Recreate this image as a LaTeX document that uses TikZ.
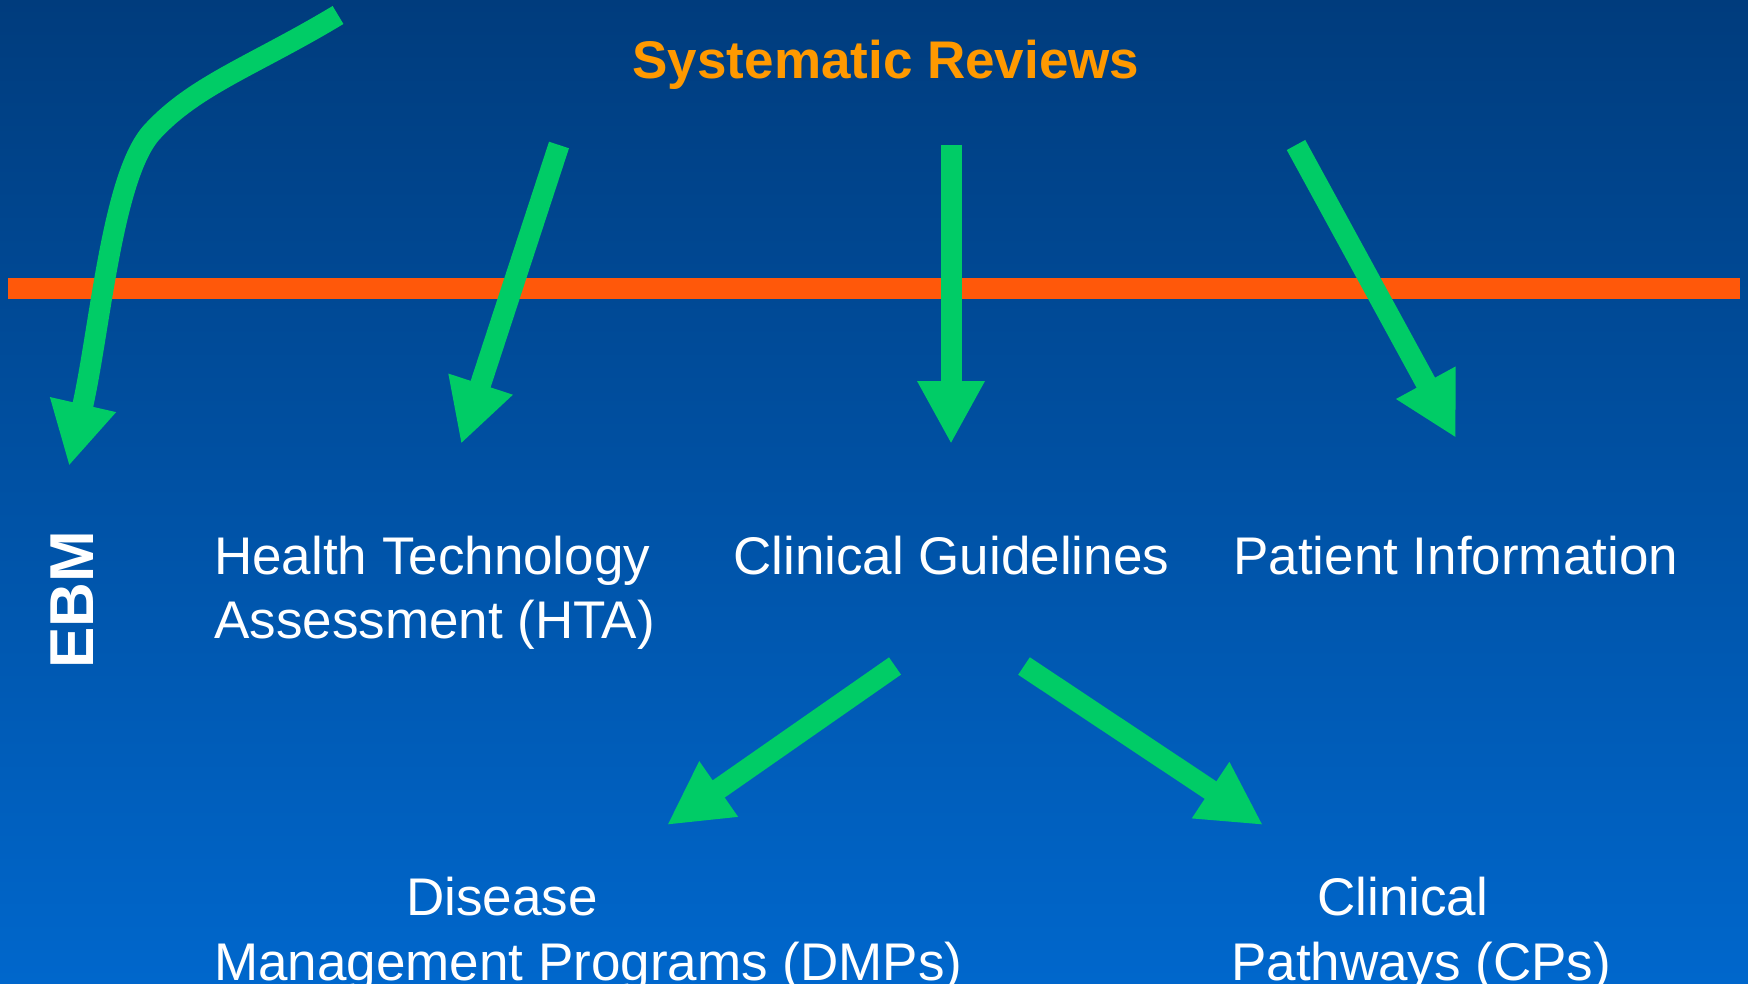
\documentclass[tikz,border=0pt]{standalone}
\usepackage{fontspec}
\setmainfont{Liberation Sans}
\usetikzlibrary{arrows.meta}
\definecolor{bgtop}{RGB}{0,60,125}
\definecolor{bgbot}{RGB}{0,103,204}
\definecolor{flow}{RGB}{0,204,102}
\definecolor{divider}{RGB}{255,88,10}
\definecolor{heading}{RGB}{255,153,0}
\begin{document}
\begin{tikzpicture}[x=1pt,y=-1pt,
  flowarrow/.style={draw=flow, line width=21pt, -{Triangle[length=63pt,width=63pt]}},
  txt/.style={text=white, font=\fontsize{53}{64}\selectfont, anchor=base west, inner sep=0pt},
  headline/.style={text=heading, font=\bfseries\fontsize{53}{64}\selectfont, anchor=base, inner sep=0pt},
]
\useasboundingbox (0,0) rectangle (1748,984);
\clip (0,0) rectangle (1748,984);
% background
\shade[top color=bgtop, bottom color=bgbot] (0,0) rectangle (1748,984);

% dividing line
\coordinate (divL) at (8,288.5);
\coordinate (divR) at (1740,288.5);
\draw[divider, line width=21pt] (divL) -- (divR);

% texts
\node[headline] (sr) at (886,79) {Systematic Reviews};
\node[text=white, font=\bfseries\fontsize{62}{62}\selectfont, rotate=90, anchor=base, inner sep=0pt] (ebm) at (93,600) {EBM};
\node[txt] (hta) at (214,574) {Health Technology};
\node[txt] (htaB) at (214,638) {Assessment (HTA)};
\node[txt] (cg) at (733,574) {Clinical Guidelines};
\node[txt] (pi) at (1233,574) {Patient Information};
\node[txt] (dmp) at (406,915) {Disease};
\node[txt] (dmpB) at (214,980) {Management Programs (DMPs)};
\node[txt] (cp) at (1317,915) {Clinical};
\node[txt] (cpB) at (1231,980) {Pathways (CPs)};

% arrow ends
\coordinate (ebmS) at (338,15);
\coordinate (ebmE) at (69,466);
\coordinate (htaS) at (559,145);
\coordinate (htaE) at (461,444);
\coordinate (cgS) at (951,145);
\coordinate (cgE) at (951,444);
\coordinate (piS) at (1296,145);
\coordinate (piE) at (1456,438);
\coordinate (dmpS) at (895,666);
\coordinate (dmpE) at (667,825);
\coordinate (cpS) at (1024,666);
\coordinate (cpE) at (1263,825);

% arrows
\draw[flowarrow] (ebmS) .. controls (255,65) and (195,85) .. (152,132)
  .. controls (112,176) and (100,330) .. (ebmE);
\draw[flowarrow] (htaS) -- (htaE);
\draw[flowarrow] (cgS) -- (cgE);
\draw[flowarrow] (piS) -- (piE);
\draw[flowarrow] (dmpS) -- (dmpE);
\draw[flowarrow] (cpS) -- (cpE);
\end{tikzpicture}
\end{document}
